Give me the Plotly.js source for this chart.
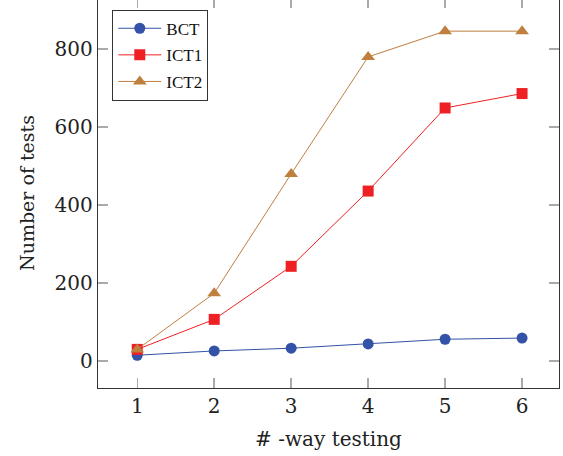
<!DOCTYPE html>
<html>
<head>
<meta charset="utf-8">
<script src="https://cdn.plot.ly/plotly-3.0.1.min.js"></script>
<style>
html,body{margin:0;padding:0;background:#fff;overflow:hidden;}
#chart{position:absolute;left:0;top:-2px;width:563px;height:458px;}
</style>
</head>
<body>
<div id="chart"></div>
<script>
const ways = [1, 2, 3, 4, 5, 6];
const bct  = [15, 26, 33, 44, 56, 59];
const ict1 = [30, 107, 243, 436, 649, 686];
const ict2 = [30, 174, 480, 780, 846, 846];
const xTicks = [1, 2, 3, 4, 5, 6];
const yTicks = [0, 200, 400, 600, 800];

const legFont = "Liberation Serif, Times New Roman, serif";
const font = "DejaVu Serif";

const traces = [
  {x: ways, y: bct, name: 'BCT', legendgroup: 'a', mode: 'lines+markers',
   line: {color: '#3352A8', width: 1},
   marker: {symbol: 'circle', size: 11, color: '#3352A8'}},
  {x: ways, y: ict1, name: 'ICT1', legendgroup: 'b', mode: 'lines+markers',
   line: {color: '#EE2024', width: 1},
   marker: {symbol: 'square', size: 11, color: '#EE2024'}},
  {x: ways, y: ict2, name: 'ICT2', legendgroup: 'c', mode: 'lines+markers',
   line: {color: '#BF7F3F', width: 1},
   marker: {symbol: 'triangle-up', size: 12, color: '#BF7F3F'}}
];

const layout = {
  width: 563, height: 458,
  margin: {l: 98, r: 4, t: 0, b: 68},
  paper_bgcolor: '#fff', plot_bgcolor: '#fff',
  font: {family: font, color: '#222', size: 20},
  showlegend: true,
  legend: {
    x: 0.031, y: 0.97, xanchor: 'left', yanchor: 'top',
    bgcolor: '#fff', bordercolor: '#333', borderwidth: 1,
    font: {family: legFont, size: 17, color: '#111'},
    itemwidth: 43,
    tracegroupgap: 1.5
  },
  xaxis: {
    range: [0.49, 6.48], tickvals: xTicks, ticktext: xTicks.map(String),
    ticks: 'inside', ticklen: 10, tickcolor: '#aaa', tickwidth: 1.5,
    showline: true, linecolor: '#333', linewidth: 1.2, mirror: 'ticks',
    showgrid: false, zeroline: false,
    tickfont: {family: font, size: 20, color: '#222'},
    title: {text: '# -way testing', font: {family: font, size: 20, color: '#222'}, standoff: 14}
  },
  yaxis: {
    range: [-69, 931], tickvals: yTicks, ticktext: yTicks.map(String),
    ticks: 'inside', ticklen: 10, tickcolor: '#aaa', tickwidth: 1.5,
    showline: true, linecolor: '#333', linewidth: 1.2, mirror: 'ticks',
    showgrid: false, zeroline: false,
    tickfont: {family: font, size: 20, color: '#222'},
    ticklabelstandoff: 0,
    title: {text: 'Number of tests', font: {family: font, size: 19, color: '#222'}, standoff: 15}
  }
};

Plotly.newPlot('chart', traces, layout, {displayModeBar: false, staticPlot: true});
</script>
</body>
</html>
